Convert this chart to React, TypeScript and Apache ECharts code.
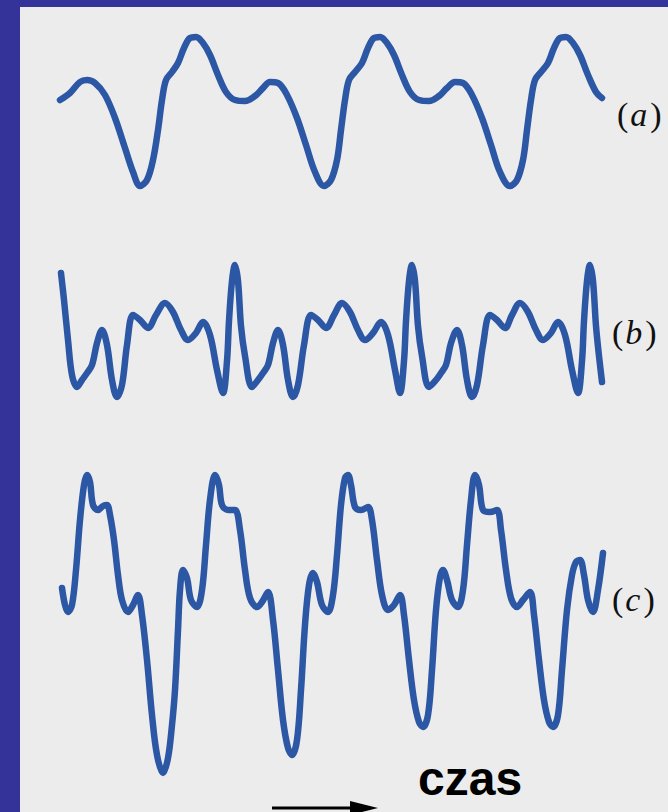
import React, { useEffect, useRef } from "react";
import * as echarts from "echarts";

// time (arbitrary units along the page) vs. signal amplitude (arbitrary units)
const waveA: [number, number][] = [
  [60, 11], [70, 18], [80, 29], [87, 31], [95, 28], [105, 16], [115, -7], [125, -37], [133, -61], [140, -75],
  [147, -69], [153, -49], [158, -19], [162, 11], [166, 31], [172, 39], [178, 48], [184, 63], [190, 73], [196, 74],
  [203, 68], [210, 56], [218, 36], [226, 19], [235, 11], [245, 10], [255, 15], [263, 23], [270, 29], [278, 28],
  [287, 16], [297, -7], [306, -34], [315, -61], [324, -75], [331, -69], [337, -49], [341, -19], [345, 11], [349, 31],
  [355, 39], [362, 48], [368, 63], [374, 73], [380, 74], [387, 68], [394, 56], [402, 36], [410, 19], [419, 11],
  [429, 10], [439, 15], [447, 23], [455, 29], [463, 28], [472, 16], [482, -7], [491, -34], [500, -61], [510, -75],
  [517, -69], [523, -49], [527, -19], [531, 11], [535, 31], [541, 39], [548, 48], [554, 63], [560, 73], [566, 74],
  [573, 68], [580, 56], [588, 36], [596, 19], [602, 13],
];

const waveB: [number, number][] = [
  [61, 58], [64, 31], [68, -9], [72, -44], [77, -56], [82, -49], [87, -42], [92, -34], [97, -12], [102, 1],
  [107, -14], [112, -49], [117, -66], [122, -54], [127, -14], [133, 16], [140, 11], [148, 3], [156, 16], [165, 28],
  [173, 19], [181, 1], [188, -9], [196, -2], [203, 9], [210, -4], [217, -39], [223, -62], [227, -30], [229, 10],
  [232, 50], [235, 66], [238, 50], [241, 5], [245, -25], [252, -56],
  [258, -49], [263, -42], [268, -34], [273, -12], [278, 1], [283, -14], [288, -49], [293, -66], [298, -54], [304, -14],
  [311, 16], [318, 11], [326, 3], [334, 16], [342, 28], [350, 19], [358, 1], [365, -9], [373, -2], [381, 9],
  [388, -4], [395, -39], [400, -62], [404, -30], [406, 10], [409, 50], [412, 66], [415, 50], [418, 5], [422, -25],
  [429, -56],
  [436, -49], [441, -42], [446, -34], [451, -12], [457, 1], [462, -14], [467, -49], [472, -66], [477, -54], [483, -14],
  [490, 16], [497, 11], [505, 3], [512, 16], [520, 28], [528, 19], [536, 1], [543, -9], [551, -2], [558, 9],
  [565, -4], [572, -39], [578, -62], [582, -30], [584, 10], [587, 50], [590, 66], [593, 50], [596, 5], [599, -25],
  [602, -51],
];

const waveC: [number, number][] = [
  [62, 32], [65, 15], [68, 8], [72, 15], [76, 50], [80, 100], [84, 135], [87, 145], [90, 138], [93, 115],
  [98, 110], [103, 114], [107, 115], [110, 105], [114, 80], [118, 45], [122, 20], [128, 8], [133, 15], [138, 25],
  [142, 5], [147, -40], [152, -95], [157, -135], [163, -153], [168, -138], [172, -105], [175, -70], [178, -10], [180, 30],
  [183, 50], [187, 42], [191, 20], [197, 13], [202, 30], [206, 75], [210, 120], [215, 145], [219, 135], [222, 115],
  [228, 110], [235, 110], [240, 90], [245, 50], [250, 22], [257, 13], [262, 18], [268, 28], [273, 0], [278, -50],
  [283, -100], [288, -128], [292, -135], [297, -120], [301, -70], [305, -5], [309, 35], [313, 47], [317, 38], [322, 15],
  [328, 8], [333, 25], [337, 65], [341, 115], [345, 142], [348, 145], [351, 135], [355, 113], [361, 110], [368, 113],
  [372, 100], [377, 60], [382, 25], [388, 10], [394, 15], [400, 25], [404, 5], [409, -40], [414, -80], [419, -102],
  [423, -107], [428, -95], [432, -50], [436, 10], [440, 43], [443, 50], [447, 40], [452, 20], [458, 13], [463, 30],
  [467, 75], [471, 120], [475, 145], [479, 135], [483, 110], [490, 108], [497, 110], [501, 90], [506, 50], [511, 22],
  [517, 13], [523, 20], [530, 28], [534, 5], [539, -40], [544, -80], [549, -102], [553, -107], [558, -95], [562, -50],
  [567, 10], [572, 45], [576, 58], [580, 60], [584, 45], [588, 20], [593, 8], [598, 30], [603, 67],
];

const waveLabels = ["a", "b", "c"];
const timeLabel = "czas";

const LINE = "#2b57a5";

export default function App() {
  const ref = useRef<HTMLDivElement>(null);

  useEffect(() => {
    if (!ref.current) return;
    const chart = echarts.init(ref.current, null, { renderer: "svg" });

    const gridDefs = [
      { top: 11, height: 200, min: -100, max: 100 },
      { top: 231, height: 200, min: -100, max: 100 },
      { top: 420, height: 390, min: -190, max: 200 },
    ];
    const waves = [waveA, waveB, waveC];
    const labelY = [114, 332, 599];
    const labelX = [617, 612, 612];

    const labelTexts = waveLabels.map((l, i) => ({
      type: "text",
      x: labelX[i],
      y: labelY[i],
      z: 10,
      style: {
        text: `{p|(}{i|${l}}{p|)}`,
        verticalAlign: "middle",
        align: "left",
        rich: {
          p: { fontFamily: "Liberation Serif", fontSize: 34, fill: "#111", fontStyle: "normal" },
          i: { fontFamily: "Liberation Serif", fontSize: 34, fill: "#111", fontStyle: "italic", padding: [0, 3, 0, 2] },
        },
      },
    }));

    chart.setOption({
      animation: false,
      backgroundColor: "#333399",
      grid: gridDefs.map((g) => ({ left: 0, right: 0, top: g.top, height: g.height, containLabel: false })),
      xAxis: gridDefs.map((_, i) => ({ type: "value", gridIndex: i, min: 0, max: 668, show: false })),
      yAxis: gridDefs.map((g, i) => ({ type: "value", gridIndex: i, min: g.min, max: g.max, show: false })),
      series: waves.map((w, i) => ({
        type: "line",
        xAxisIndex: i,
        yAxisIndex: i,
        data: w,
        showSymbol: false,
        smooth: 0.35,
        silent: true,
        clip: false,
        lineStyle: { color: LINE, width: 6.5, cap: "round", join: "round" },
      })),
      graphic: [
        { type: "rect", z: -10, shape: { x: 20, y: 7, width: 648, height: 805 }, style: { fill: "#ececec" } },
        ...labelTexts,
        {
          type: "text",
          x: 418,
          y: 778,
          z: 10,
          style: {
            text: timeLabel,
            fontFamily: "Liberation Sans",
            fontWeight: "bold",
            fontSize: 48,
            fill: "#000",
            verticalAlign: "middle",
            align: "left",
          },
        },
        { type: "line", z: 10, shape: { x1: 272, y1: 808, x2: 355, y2: 808 }, style: { stroke: "#000", lineWidth: 3 } },
        { type: "polygon", z: 10, shape: { points: [[350, 801], [378, 808], [350, 815]] }, style: { fill: "#000" } },
      ],
    });

    return () => chart.dispose();
  }, []);

  return <div ref={ref} style={{ position: "absolute", left: 0, top: 0, width: 668, height: 812 }} />;
}
